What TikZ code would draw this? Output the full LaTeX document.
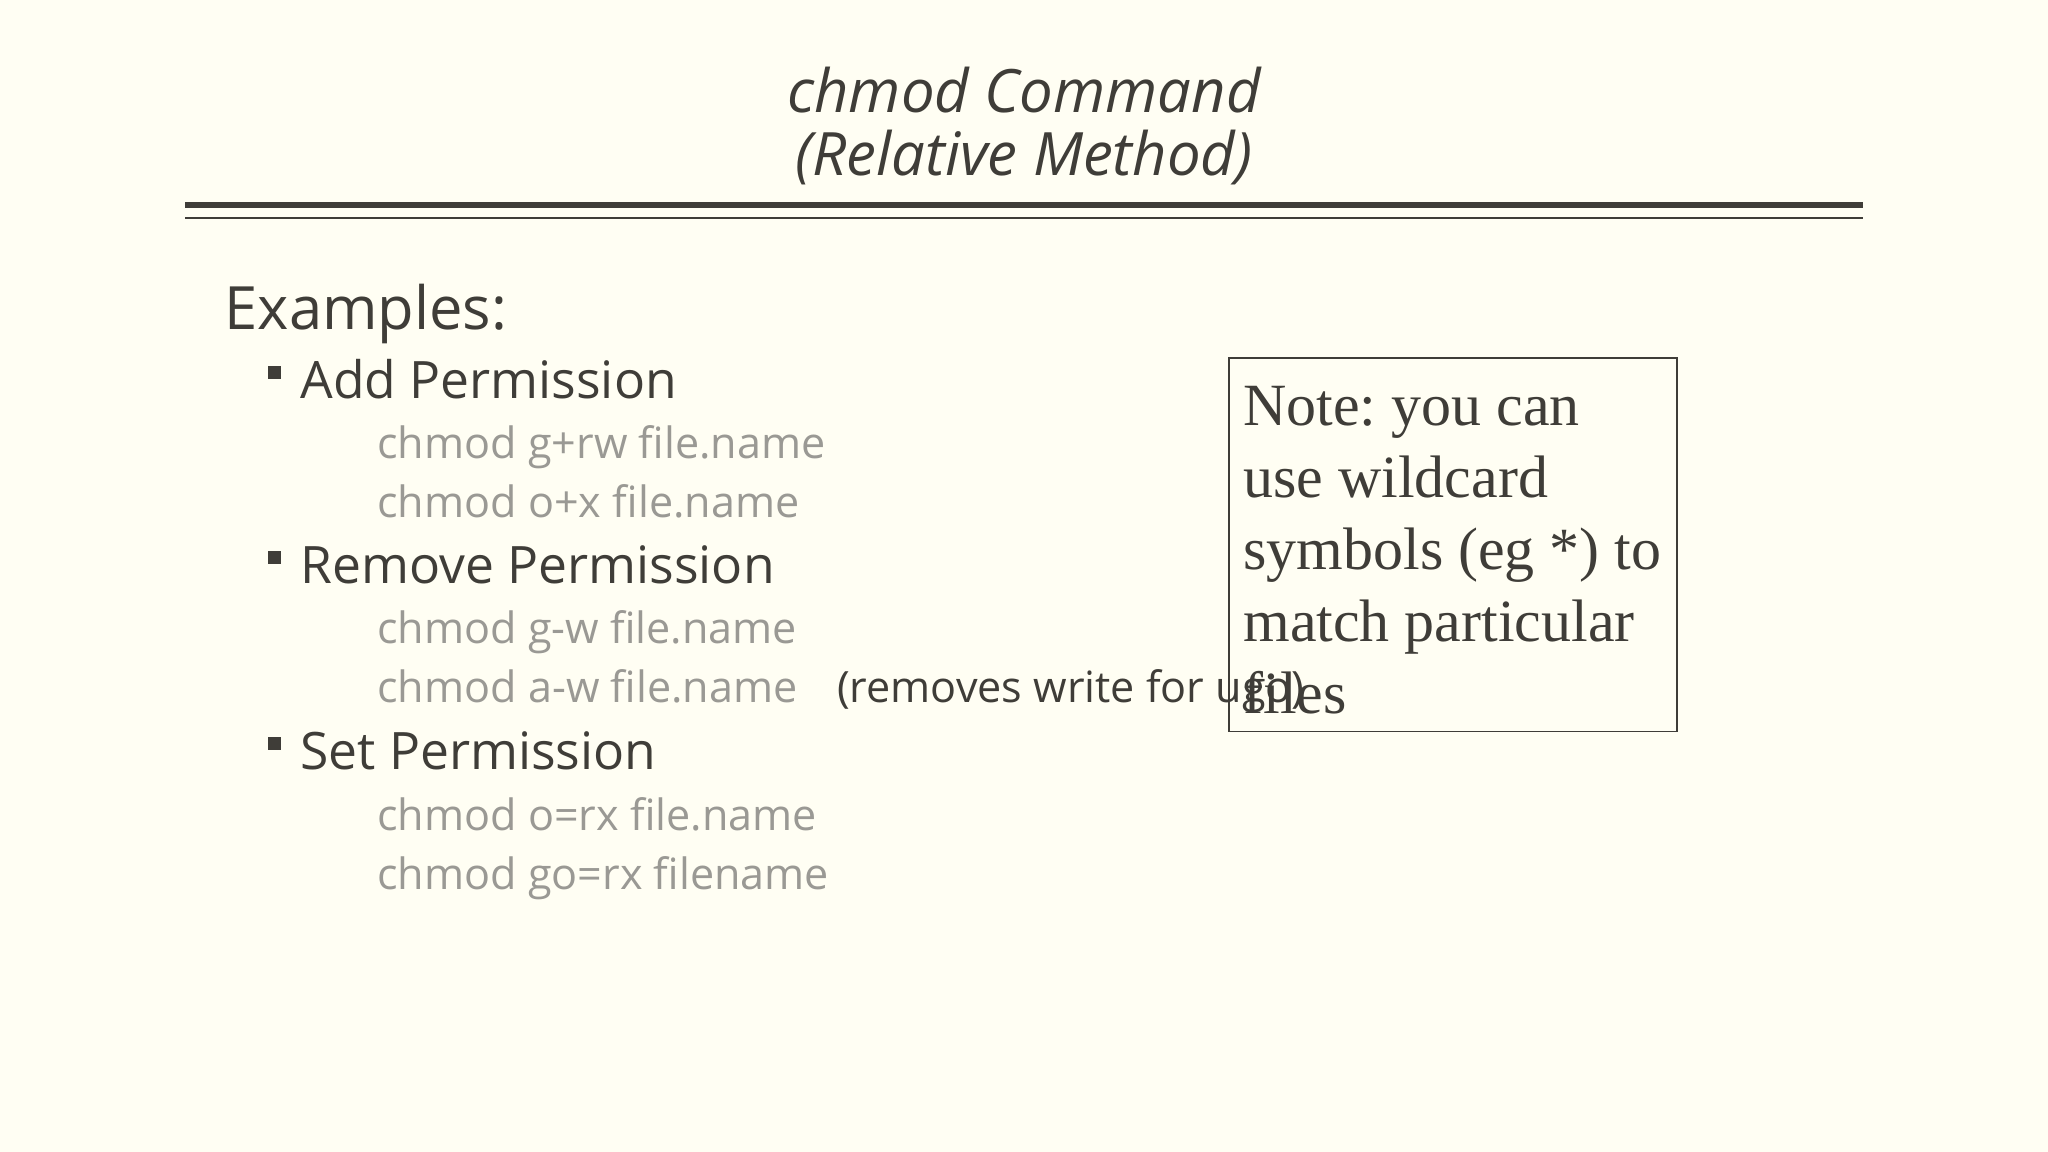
\documentclass[tikz,border=0pt]{standalone}
\usepackage{fontspec}
\setmainfont{Open Sans}
\newfontfamily\notefont{Liberation Serif}
\definecolor{bg}{HTML}{FFFEF3}
\definecolor{ink}{HTML}{3F3D38}
\definecolor{cmdgrey}{HTML}{9A9994}
\frenchspacing
\begin{document}
\begin{tikzpicture}[x=1pt,y=-1pt,
  every node/.style={inner sep=0pt,outer sep=0pt,anchor=base west},
  lvl1/.style={font=\fontsize{45.7}{50}\selectfont,text=ink},
  lvl2/.style={font=\fontsize{39.5}{44}\selectfont,text=ink},
  cmd/.style={font=\fontsize{33}{36}\selectfont,text=cmdgrey},
  bul/.style={fill=ink,minimum size=10pt,anchor=center}]
\fill[bg] (0,0) rectangle (1568,882);
\useasboundingbox (0,0) rectangle (1568,882);
\node[anchor=base,font=\fontsize{45.8}{50}\selectfont\itshape,text=ink] (t1) at (784,86) {chmod Command};
\node[anchor=base,font=\fontsize{45.8}{50}\selectfont\itshape,text=ink] (t2) at (784,134) {(Relative Method)};
\draw[ink,line width=5pt] (142,157) -- (1426,157);
\draw[ink,line width=1.5pt] (142,167) -- (1426,167);
\node[lvl1] (ex) at (172,252) {Examples:};
\node[bul] (b1) at (210,285) {};
\node[lvl2] (add) at (230,305) {Add Permission};
\node[cmd] (c1) at (289,351) {chmod g+rw file.name};
\node[cmd] (c2) at (289,396) {chmod o+x file.name};
\node[bul] (b2) at (210,427) {};
\node[lvl2] (rem) at (230,447) {Remove Permission};
\node[cmd] (c3) at (289,493) {chmod g-w file.name};
\node[cmd] (c4) at (289,538) {chmod a-w file.name};
\node[font=\fontsize{33}{36}\selectfont,text=ink] (rm) at (641,538) {(removes write for ugo)};
\node[bul] (b3) at (210,569) {};
\node[lvl2] (set) at (230,589) {Set Permission};
\node[cmd] (c5) at (289,636) {chmod o=rx file.name};
\node[cmd] (c6) at (289,681) {chmod go=rx filename};
\draw[ink,line width=1pt,fill=none] (941,274) rectangle (1284,560);
\node[font=\notefont\fontsize{45.9}{55}\selectfont,text=ink,align=left,anchor=north west] (note) at (952,296) {Note: you can\\use wildcard\\symbols (eg *) to\\match particular\\files};
\end{tikzpicture}
\end{document}
